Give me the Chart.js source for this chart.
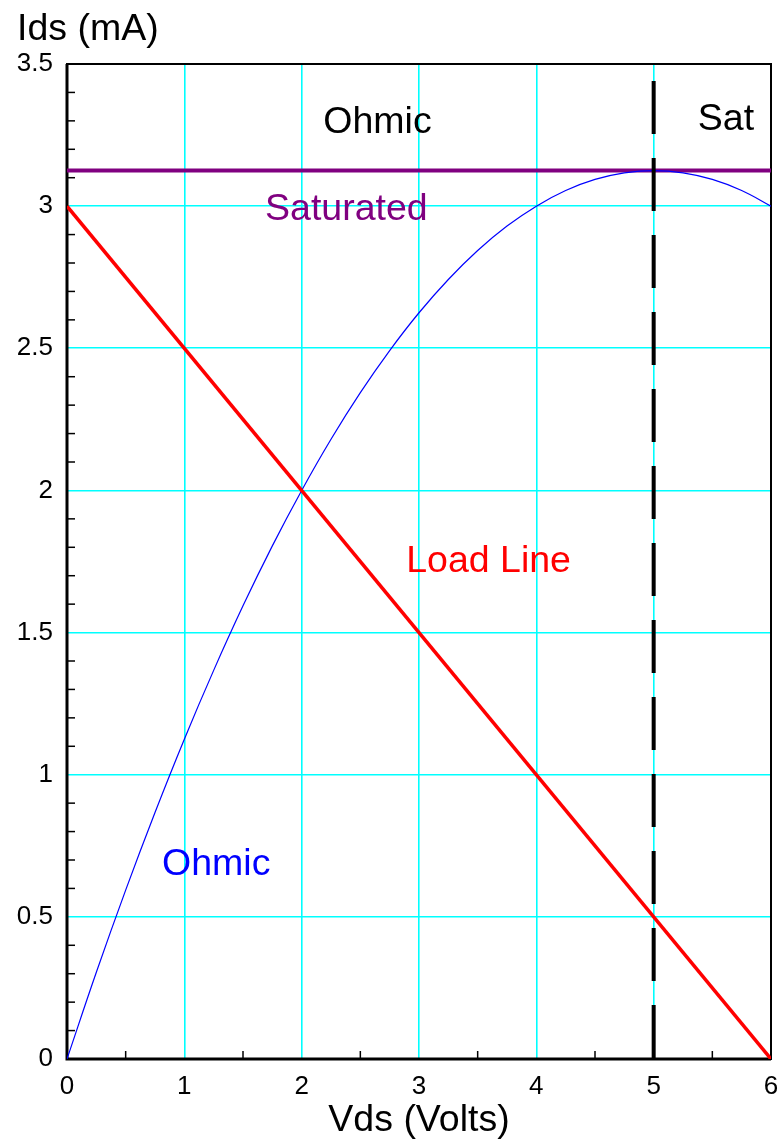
<!DOCTYPE html>
<html>
<head>
<meta charset="utf-8">
<script src="https://cdn.jsdelivr.net/npm/chart.js@4.4.1/dist/chart.umd.min.js"></script>
<style>
  html, body { margin: 0; padding: 0; background: #fff; overflow: hidden; }
  #wrap { width: 781px; height: 1142px; }
  canvas { display: block; }
</style>
</head>
<body>
<div id="wrap"><canvas id="fetChart"></canvas></div>
<script>
// Drain voltage samples (V) and the ohmic-region drain current (mA)
const vds = [0, 0.25, 0.5, 0.75, 1, 1.25, 1.5, 1.75, 2, 2.25, 2.5, 2.75, 3,
             3.25, 3.5, 3.75, 4, 4.25, 4.5, 4.75, 5, 5.25, 5.5, 5.75, 6];
const idsOhmic = [0, 0.305, 0.594, 0.867, 1.125, 1.367, 1.594, 1.805, 2.0, 2.18, 2.344, 2.492, 2.625,
                  2.742, 2.844, 2.93, 3.0, 3.055, 3.094, 3.117, 3.125, 3.117, 3.094, 3.055, 3.0];

// Saturation current level
const satV = [0, 6];
const satI = [3.125, 3.125];

// Load line end points
const loadV = [0, 6];
const loadI = [3, 0];

// Ohmic / saturation boundary
const boundV = [5, 5];
const boundI = [3.44, 0];

const xTicks = [0, 1, 2, 3, 4, 5, 6];
const yTickLabels = ['0', '0.5', '1', '1.5', '2', '2.5', '3', '3.5'];

const pts = (xs, ys) => xs.map((x, i) => ({ x: x, y: ys[i] }));

const FONT = '"Liberation Sans", Arial, Helvetica, sans-serif';

// frame, inward minor ticks, axis titles and region labels
const extras = {
    id: 'extras',
    beforeDatasetsDraw(chart) {
        const { ctx, chartArea: a, scales } = chart;
        ctx.save();
        ctx.strokeStyle = '#000';
        // minor ticks on the y axis every 0.1
        ctx.lineWidth = 1.5;
        for (let k = 1; k < 35; k++) {
            if (k % 5 === 0) continue;
            const y = scales.y.getPixelForValue(k / 10);
            ctx.beginPath();
            ctx.moveTo(a.left, y);
            ctx.lineTo(a.left + 8, y);
            ctx.stroke();
        }
        // minor ticks on the x axis at the half volts
        for (let k = 1; k < 12; k += 2) {
            const x = scales.x.getPixelForValue(k / 2);
            ctx.beginPath();
            ctx.moveTo(x, a.bottom);
            ctx.lineTo(x, a.bottom - 8);
            ctx.stroke();
        }
        // frame
        ctx.lineWidth = 2;
        ctx.strokeRect(a.left, a.top, a.right - a.left, a.bottom - a.top);
        ctx.lineWidth = 3;
        ctx.beginPath();
        ctx.moveTo(a.left, a.top);
        ctx.lineTo(a.left, a.bottom);
        ctx.lineTo(a.right, a.bottom);
        ctx.stroke();
        ctx.restore();
    },
    afterDatasetsDraw(chart) {
        const { ctx, scales } = chart;
        const notes = [
            { text: 'Ohmic', x: 2.646, y: 3.257, color: '#000000' },
            { text: 'Sat', x: 5.616, y: 3.268, color: '#000000' },
            { text: 'Saturated', x: 2.381, y: 2.951, color: '#800080' },
            { text: 'Load Line', x: 3.593, y: 1.713, color: '#ff0000' },
            { text: 'Ohmic', x: 1.272, y: 0.647, color: '#0000ff' }
        ];
        ctx.save();
        ctx.font = '37.5px ' + FONT;
        ctx.textAlign = 'center';
        ctx.textBaseline = 'alphabetic';
        notes.forEach(n => {
            ctx.fillStyle = n.color;
            ctx.fillText(n.text, scales.x.getPixelForValue(n.x), scales.y.getPixelForValue(n.y));
        });
        // axis titles
        ctx.fillStyle = '#000';
        ctx.textAlign = 'left';
        ctx.fillText('Ids (mA)', 17, 40);
        ctx.textAlign = 'center';
        ctx.fillText('Vds (Volts)', 419, 1131);
        ctx.restore();
    }
};

new Chart(document.getElementById('fetChart'), {
    type: 'scatter',
    data: {
        datasets: [
            {
                label: 'Boundary',
                data: pts(boundV, boundI),
                showLine: true,
                borderColor: '#000000',
                borderWidth: 4,
                borderDash: [53, 24],
                pointRadius: 0,
                order: 0
            },
            {
                label: 'Load Line',
                data: pts(loadV, loadI),
                showLine: true,
                borderColor: '#ff0000',
                borderWidth: 3.5,
                pointRadius: 0,
                order: 1
            },
            {
                label: 'Ohmic',
                data: pts(vds, idsOhmic),
                showLine: true,
                borderColor: '#0000ff',
                borderWidth: 1.2,
                tension: 0.4,
                pointRadius: 0,
                order: 2
            },
            {
                label: 'Saturated',
                data: pts(satV, satI),
                showLine: true,
                borderColor: '#800080',
                borderWidth: 4,
                pointRadius: 0,
                order: 3
            }
        ]
    },
    options: {
        responsive: true,
        maintainAspectRatio: false,
        animation: false,
        layout: { padding: { top: 64, right: 10, left: 0, bottom: 0 } },
        plugins: {
            legend: { display: false },
            tooltip: { enabled: false }
        },
        scales: {
            x: {
                type: 'linear',
                min: 0,
                max: 6,
                afterBuildTicks: scale => { scale.ticks = xTicks.map(v => ({ value: v })); },
                ticks: {
                    color: '#000',
                    font: { family: FONT, size: 26 },
                    padding: 12,
                    maxRotation: 0,
                    callback: v => String(v)
                },
                grid: { color: '#00ffff', lineWidth: 1.6, drawTicks: false },
                border: { display: false },
                afterFit: scale => {
                    scale.height = 83;
                    scale.paddingLeft = 0;
                    scale.paddingRight = 0;
                }
            },
            y: {
                type: 'linear',
                min: 0,
                max: 3.5,
                afterBuildTicks: scale => {
                    scale.ticks = yTickLabels.map((t, i) => ({ value: i * 0.5 }));
                },
                ticks: {
                    color: '#000',
                    font: { family: FONT, size: 26 },
                    padding: 14,
                    callback: (v, i) => yTickLabels[i]
                },
                grid: { color: '#00ffff', lineWidth: 1.6, drawTicks: false },
                border: { display: false },
                afterFit: scale => {
                    scale.width = 67;
                    scale.paddingTop = 0;
                    scale.paddingBottom = 0;
                }
            }
        }
    },
    plugins: [extras]
});
</script>
</body>
</html>
